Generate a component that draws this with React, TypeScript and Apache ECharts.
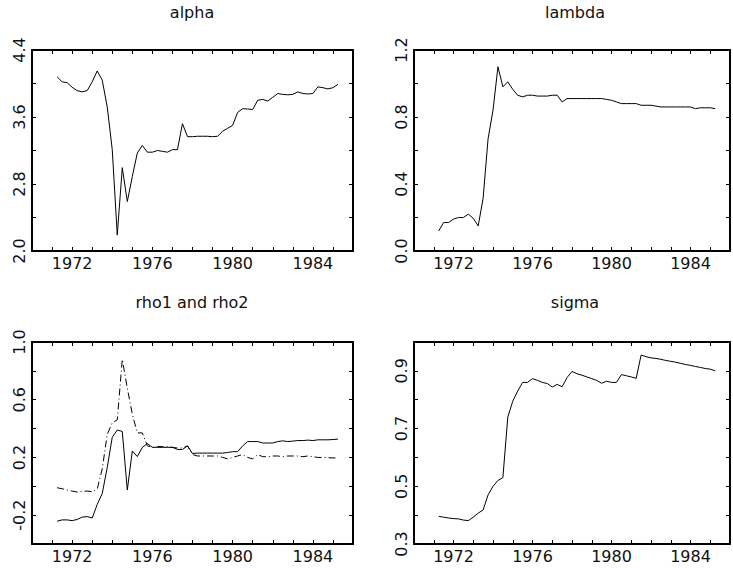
import React, { useEffect, useRef } from "react";
import * as echarts from "echarts";

const START_YEAR = 1971.25;
const STEP = 0.25;

const alpha = [
  4.08, 4.02, 4.01, 3.955, 3.915, 3.9, 3.915, 4.02, 4.15, 4.04,
  3.72, 3.21, 2.19, 2.995, 2.59, 2.89, 3.17, 3.26, 3.18, 3.18,
  3.2, 3.19, 3.18, 3.21, 3.21, 3.52, 3.365, 3.365, 3.37, 3.37,
  3.37, 3.365, 3.37, 3.43, 3.465, 3.5, 3.655, 3.7, 3.695, 3.69,
  3.8, 3.81, 3.79, 3.835, 3.88, 3.87, 3.865, 3.87, 3.9, 3.88,
  3.875, 3.88, 3.96, 3.95, 3.935, 3.95, 3.99,
];

const lambda = [
  0.12, 0.17, 0.17, 0.19, 0.2, 0.2, 0.22, 0.195, 0.15, 0.315,
  0.67, 0.84, 1.1, 0.98, 1.01, 0.965, 0.93, 0.92, 0.93, 0.93,
  0.925, 0.925, 0.925, 0.93, 0.93, 0.89, 0.91, 0.91, 0.91, 0.91,
  0.91, 0.91, 0.91, 0.91, 0.905, 0.9, 0.89, 0.88, 0.88, 0.88,
  0.88, 0.87, 0.87, 0.87, 0.865, 0.86, 0.86, 0.86, 0.86, 0.86,
  0.86, 0.86, 0.85, 0.855, 0.855, 0.855, 0.85,
];

const rho1 = [
  -0.242, -0.233, -0.233, -0.238, -0.23, -0.214, -0.21, -0.22, -0.126, -0.05,
  0.13, 0.34, 0.39, 0.38, -0.026, 0.245, 0.206, 0.27, 0.296, 0.27,
  0.27, 0.27, 0.27, 0.27, 0.255, 0.255, 0.28, 0.227, 0.23, 0.23,
  0.23, 0.23, 0.23, 0.23, 0.234, 0.24, 0.24, 0.28, 0.31, 0.31,
  0.31, 0.3, 0.3, 0.3, 0.31, 0.315, 0.31, 0.313, 0.317, 0.317,
  0.32, 0.317, 0.322, 0.322, 0.322, 0.324, 0.327,
];

const rho2 = [
  -0.01, -0.017, -0.026, -0.033, -0.04, -0.035, -0.033, -0.038, -0.02, 0.12,
  0.36, 0.44, 0.46, 0.88, 0.68, 0.5, 0.37, 0.37, 0.28, 0.27,
  0.275, 0.275, 0.275, 0.27, 0.265, 0.265, 0.28, 0.22, 0.21, 0.21,
  0.21, 0.21, 0.21, 0.2, 0.19, 0.2, 0.21, 0.22, 0.2, 0.19,
  0.22, 0.205, 0.205, 0.21, 0.21, 0.205, 0.21, 0.21, 0.21, 0.205,
  0.21, 0.205, 0.2, 0.2, 0.198, 0.197, 0.195,
];

const sigma = [
  0.396, 0.393, 0.39, 0.388, 0.387, 0.383, 0.381, 0.393, 0.407, 0.418,
  0.47, 0.5, 0.52, 0.53, 0.74, 0.795, 0.83, 0.86, 0.86, 0.873,
  0.867, 0.86, 0.856, 0.844, 0.853, 0.845, 0.877, 0.898, 0.89, 0.885,
  0.879, 0.873, 0.867, 0.857, 0.864, 0.86, 0.86, 0.887, 0.883, 0.879,
  0.874, 0.955, 0.949, 0.945, 0.943, 0.94, 0.936, 0.933, 0.93, 0.926,
  0.922, 0.919, 0.915, 0.912, 0.908, 0.906, 0.9,
];

const titles = ["alpha", "lambda", "rho1 and rho2", "sigma"];
const xLabelYears = [1972, 1976, 1980, 1984];

// y-axis specs per panel
const yMins = [2.0, 0.0, -0.4, 0.3];
const yMaxs = [4.4, 1.2, 1.0, 1.0];
const yTickSteps = [0.4, 0.2, 0.2, 0.1];
const yLabelStarts = [2.0, 0.0, -0.2, 0.3];
const yLabelSteps = [0.8, 0.4, 0.4, 0.2];

const FONT = "DejaVu Sans";

const toPairs = (vals: number[]) => vals.map((v, i) => [START_YEAR + i * STEP, v]);

export default function App() {
  const ref = useRef<HTMLDivElement>(null);

  useEffect(() => {
    if (!ref.current) return;
    const chart = echarts.init(ref.current, undefined, { renderer: "svg" });

    const grids = [
      { left: 32, top: 50, width: 321, height: 201 },
      { left: 414, top: 50, width: 322, height: 201 },
      { left: 32, top: 342, width: 321, height: 202 },
      { left: 414, top: 342, width: 322, height: 202 },
    ];
    const titleX = [192, 575, 192, 575];
    const titleY = [4, 4, 294, 294];

    const axisLine = { show: true, onZero: false, lineStyle: { color: "#000", width: 2 } };
    const axisTick = { show: true, inside: true, length: 4, lineStyle: { color: "#000", width: 1 } };

    const xAxis: any[] = [];
    const yAxis: any[] = [];
    grids.forEach((_, gi) => {
      const xb = {
        gridIndex: gi,
        type: "value",
        min: 1970,
        max: 1986,
        interval: 1,
        axisLine,
        axisTick,
        splitLine: { show: false },
      };
      xAxis.push({
        ...xb,
        position: "bottom",
        axisLabel: {
          show: true,
          margin: 4,
          fontSize: 16,
          fontFamily: FONT,
          color: "#111",
          formatter: (v: number) => (xLabelYears.includes(Math.round(v)) ? String(Math.round(v)) : ""),
        },
      });
      xAxis.push({ ...xb, position: "top", axisLabel: { show: false } });

      const yb = {
        gridIndex: gi,
        type: "value",
        min: yMins[gi],
        max: yMaxs[gi],
        interval: yTickSteps[gi],
        axisLine,
        axisTick,
        splitLine: { show: false },
      };
      yAxis.push({
        ...yb,
        position: "left",
        axisLabel: {
          show: true,
          rotate: 90,
          margin: 5,
          fontSize: 16,
          fontFamily: FONT,
          color: "#111",
          showMinLabel: true,
          showMaxLabel: true,
          formatter: (v: number) => {
            const k = (v - yLabelStarts[gi]) / yLabelSteps[gi];
            return Math.abs(k - Math.round(k)) < 1e-6 ? v.toFixed(1) : "";
          },
        },
      });
      yAxis.push({ ...yb, position: "right", axisLabel: { show: false } });
    });

    const line = (gi: number, vals: number[], dash?: any) => ({
      type: "line",
      xAxisIndex: gi * 2,
      yAxisIndex: gi * 2,
      data: toPairs(vals),
      showSymbol: false,
      symbol: "none",
      lineStyle: { color: "#000", width: 1, type: dash || "solid" },
    });

    chart.setOption({
      animation: false,
      backgroundColor: "#fff",
      title: titles.map((t, i) => ({
        text: t,
        left: titleX[i],
        top: titleY[i],
        textAlign: "center",
        padding: 0,
        textStyle: { fontSize: 16, fontWeight: "normal", fontFamily: FONT, color: "#111" },
      })),
      grid: grids,
      xAxis,
      yAxis,
      series: [
        line(0, alpha),
        line(1, lambda),
        line(2, rho1),
        line(2, rho2, [7, 3, 1, 3]),
        line(3, sigma),
      ],
    });

    return () => chart.dispose();
  }, []);

  return (
    <div
      ref={ref}
      style={{ position: "fixed", left: 0, top: 0, width: 733, height: 568, background: "#fff" }}
    />
  );
}
